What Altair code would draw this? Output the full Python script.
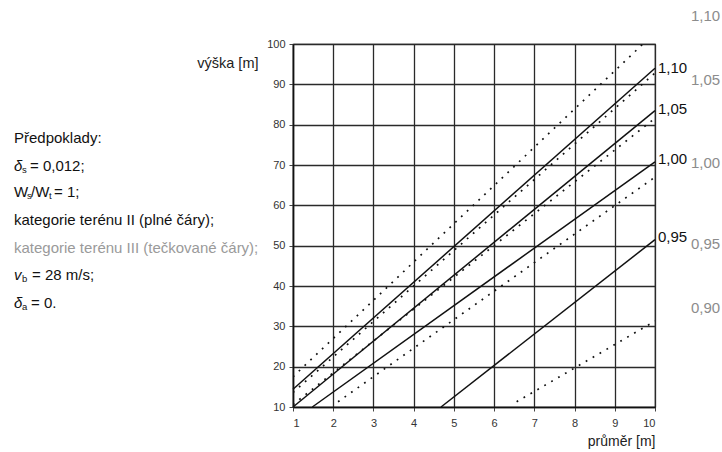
import altair as alt
import pandas as pd

# ---- chart values ----
# grid positions (diameter [m], height [m])
x_grid = [1, 1.5, 2, 2.5, 3, 3.5, 4, 4.5, 5, 5.5, 6, 6.5, 7, 7.5, 8, 8.5, 9, 9.5, 10]
y_grid = [10, 15, 20, 25, 30, 35, 40, 45, 50, 55, 60, 65, 70, 75, 80, 85, 90, 95, 100]

# terrain category II (solid lines)
solid_labels = ["1,10", "1,05", "1,00", "0,95"]
solid_x0 = [1.0, 1.0, 1.48, 4.68]
solid_y0 = [14.4, 10.0, 10.0, 10.0]
solid_x1 = [10.0, 10.0, 10.0, 10.0]
solid_y1 = [94.0, 83.5, 70.8, 51.5]
solid_label_y = [94.0, 83.9, 71.4, 52.1]

# terrain category III (dotted lines)
dotted_labels = ["1,10", "1,05", "1,00", "0,95", "0,90"]
dotted_x0 = [1.0, 1.0, 1.0, 2.12, 6.56]
dotted_y0 = [17.5, 13.6, 10.6, 11.3, 11.3]
dotted_x1 = [9.7, 10.0, 10.0, 10.0, 10.0]
dotted_y1 = [100.0, 92.8, 81.6, 67.0, 31.3]
dotted_label_y = [106.9, 91.1, 70.6, 50.4, 34.5]

# ---- tables ----
rows = []
for i, lab in enumerate(solid_labels):
    rows.append({"x": solid_x0[i], "y": solid_y0[i], "series": "II " + lab})
    rows.append({"x": solid_x1[i], "y": solid_y1[i], "series": "II " + lab})
solid_df = pd.DataFrame(rows)
rows = []
for i, lab in enumerate(dotted_labels):
    rows.append({"x": dotted_x0[i], "y": dotted_y0[i], "series": "III " + lab})
    rows.append({"x": dotted_x1[i], "y": dotted_y1[i], "series": "III " + lab})
dotted_df = pd.DataFrame(rows)

solid_lab_df = pd.DataFrame({"label": solid_labels, "y": solid_label_y})
dotted_lab_df = pd.DataFrame({"label": dotted_labels, "y": dotted_label_y})

FONT = "Liberation Sans"
PLOT_W, PLOT_H = 362, 363
LEFT, TOP = 293, 44

xs = alt.Scale(domain=[1, 10], nice=False, zero=False)
ys = alt.Scale(domain=[10, 100], nice=False, zero=False)

x_axis = alt.Axis(
    values=x_grid,
    labelExpr="datum.value % 1 == 0 ? datum.value : ''",
    grid=True, gridColor="#2a2a2a", gridWidth=1.3, gridOpacity=1,
    domainColor="#111", domainWidth=1.6,
    tickSize=4, tickColor="#444",
    labelFont=FONT, labelFontSize=11, labelColor="#333", labelPadding=6,
    title="průměr [m]", titleFont=FONT, titleFontSize=14, titleFontWeight="normal",
    titleColor="#222", titleX=PLOT_W, titleY=34, titleAlign="right",
    titleBaseline="middle", titleAnchor="end",
)
y_axis = alt.Axis(
    values=y_grid,
    labelExpr="datum.value % 10 == 0 ? datum.value : ''",
    grid=True, gridColor="#2a2a2a", gridWidth=1.3, gridOpacity=1,
    domainColor="#111", domainWidth=1.6,
    tickSize=4, tickColor="#444",
    labelFont=FONT, labelFontSize=11, labelColor="#333", labelPadding=4,
    title="výška [m]", titleFont=FONT, titleFontSize=14.5, titleFontWeight="normal",
    titleColor="#222", titleAngle=0, titleX=-35, titleY=19, titleAlign="right",
    titleBaseline="middle", titleAnchor="end",
)

solid = alt.Chart(solid_df).mark_line(color="#111", strokeWidth=1.5).encode(
    x=alt.X("x:Q", scale=xs, axis=x_axis),
    y=alt.Y("y:Q", scale=ys, axis=y_axis),
    detail="series:N",
)
dotted = alt.Chart(dotted_df).mark_line(
    color="#111", strokeWidth=1.7, strokeDash=[1.8, 6.2], clip=True
).encode(x=alt.X("x:Q", scale=xs), y=alt.Y("y:Q", scale=ys), detail="series:N")

solid_txt = alt.Chart(solid_lab_df).mark_text(
    align="left", baseline="middle", font=FONT, fontSize=15, color="#111"
).encode(x=alt.value(PLOT_W + 3), y=alt.Y("y:Q", scale=ys), text="label:N")
dotted_txt = alt.Chart(dotted_lab_df).mark_text(
    align="left", baseline="middle", font=FONT, fontSize=15, color="#8c8c8c"
).encode(x=alt.value(PLOT_W + 36), y=alt.Y("y:Q", scale=ys), text="label:N")


def txt(text, xa, ya, size=15, color="#111", style="normal"):
    return alt.Chart(pd.DataFrame({"t": [text]})).mark_text(
        align="left", baseline="middle", font=FONT, fontSize=size,
        color=color, fontStyle=style
    ).encode(x=alt.value(xa - LEFT), y=alt.value(ya - TOP), text="t:N")


notes = [
    txt("Předpoklady:", 14, 138),
    txt("δ", 14, 166, style="italic"),
    txt("s", 22, 170, size=9.5),
    txt("= 0,012;", 30, 166),
    txt("W", 14, 192),
    txt("s", 27, 196, size=9.5),
    txt("/W", 31, 192),
    txt("t", 49, 196, size=9.5),
    txt("= 1;", 54, 192),
    txt("kategorie terénu II (plné čáry);", 14, 220),
    txt("kategorie terénu III (tečkované čáry);", 14, 248, color="#9a9a9a"),
    txt("v", 14, 275, style="italic"),
    txt("b", 22, 279, size=9.5),
    txt("= 28 m/s;", 32, 275),
    txt("δ", 14, 303, style="italic"),
    txt("a", 22, 307, size=9.5),
    txt("= 0.", 31, 303),
]

chart = alt.layer(solid, dotted, solid_txt, dotted_txt, *notes).properties(
    width=PLOT_W, height=PLOT_H,
    autosize=alt.AutoSizeParams(type="none"),
    padding={"left": LEFT, "top": TOP, "right": 722 - LEFT - PLOT_W, "bottom": 452 - TOP - PLOT_H},
    background="white",
).configure_view(stroke="#222", strokeWidth=1.2)

chart.save("out.html", embed_options={"renderer": "svg", "actions": False})
